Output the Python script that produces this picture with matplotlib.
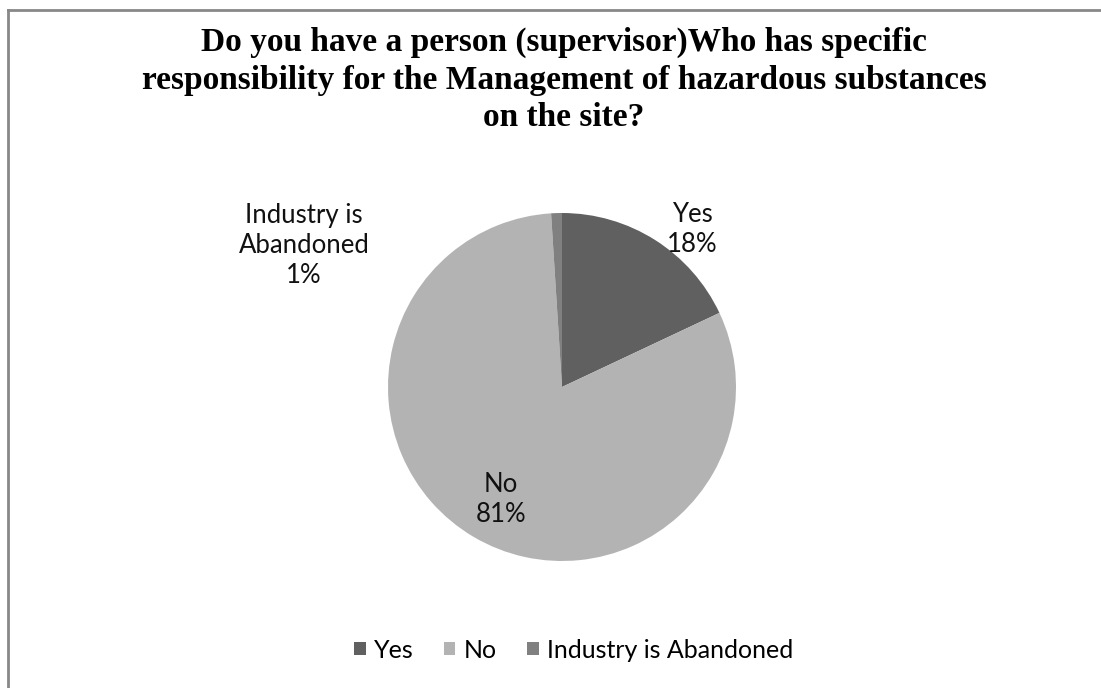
import matplotlib.pyplot as plt
from matplotlib.lines import Line2D

# data
labels = ["Yes", "No", "Industry is Abandoned"]
shares = [18, 81, 1]
label_text = ["Yes\n18%", "No\n81%", "Industry is\nAbandoned\n1%"]
colors = ["#606060", "#b3b3b3", "#808080"]

title = ("Do you have a person (supervisor)Who has specific\n"
         "responsibility for the Management of hazardous substances\n"
         "on the site?")

fig = plt.figure(figsize=(11.01, 6.88), dpi=100)
W, H = 1101, 688

# left and top frame lines only (chart is cropped)
fig.add_artist(Line2D([8 / W, 8 / W], [0, 1 - 10 / H], transform=fig.transFigure,
                      color="#888888", lw=2))
fig.add_artist(Line2D([8 / W, 1], [1 - 10 / H, 1 - 10 / H], transform=fig.transFigure,
                      color="#888888", lw=2))

fig.text(564 / W, 1 - 80 / H, title, ha="center", va="center",
         family="Liberation Serif", weight="bold", fontsize=24, linespacing=1.27)

cx, cy, r = 562, 387, 174
ax = fig.add_axes([(cx - r) / W, (H - cy - r) / H, 2 * r / W, 2 * r / H])
wedges, _ = ax.pie(shares, colors=colors, startangle=90, counterclock=False,
                   radius=1, wedgeprops=dict(linewidth=0))
ax.set_xlim(-1, 1)
ax.set_ylim(-1, 1)
ax.set_aspect("equal")
ax.axis("off")

# data label positions (pixels)
label_pos = [(692, 229), (501, 499), (304, 245)]
for txt, (px, py) in zip(label_text, label_pos):
    fig.text(px / W, 1 - py / H, txt, ha="center", va="center",
             family="Lato", fontsize=18.5, linespacing=1.25, color="#111111")

fig.legend(wedges, labels, loc="center", bbox_to_anchor=(574 / W, 1 - 650 / H),
           ncol=3, frameon=False, handlelength=0.45, handleheight=0.45,
           handletextpad=0.35, columnspacing=1.2,
           prop=dict(family="Lato", size=18))

fig.savefig("out.png", dpi=100, facecolor="white")
